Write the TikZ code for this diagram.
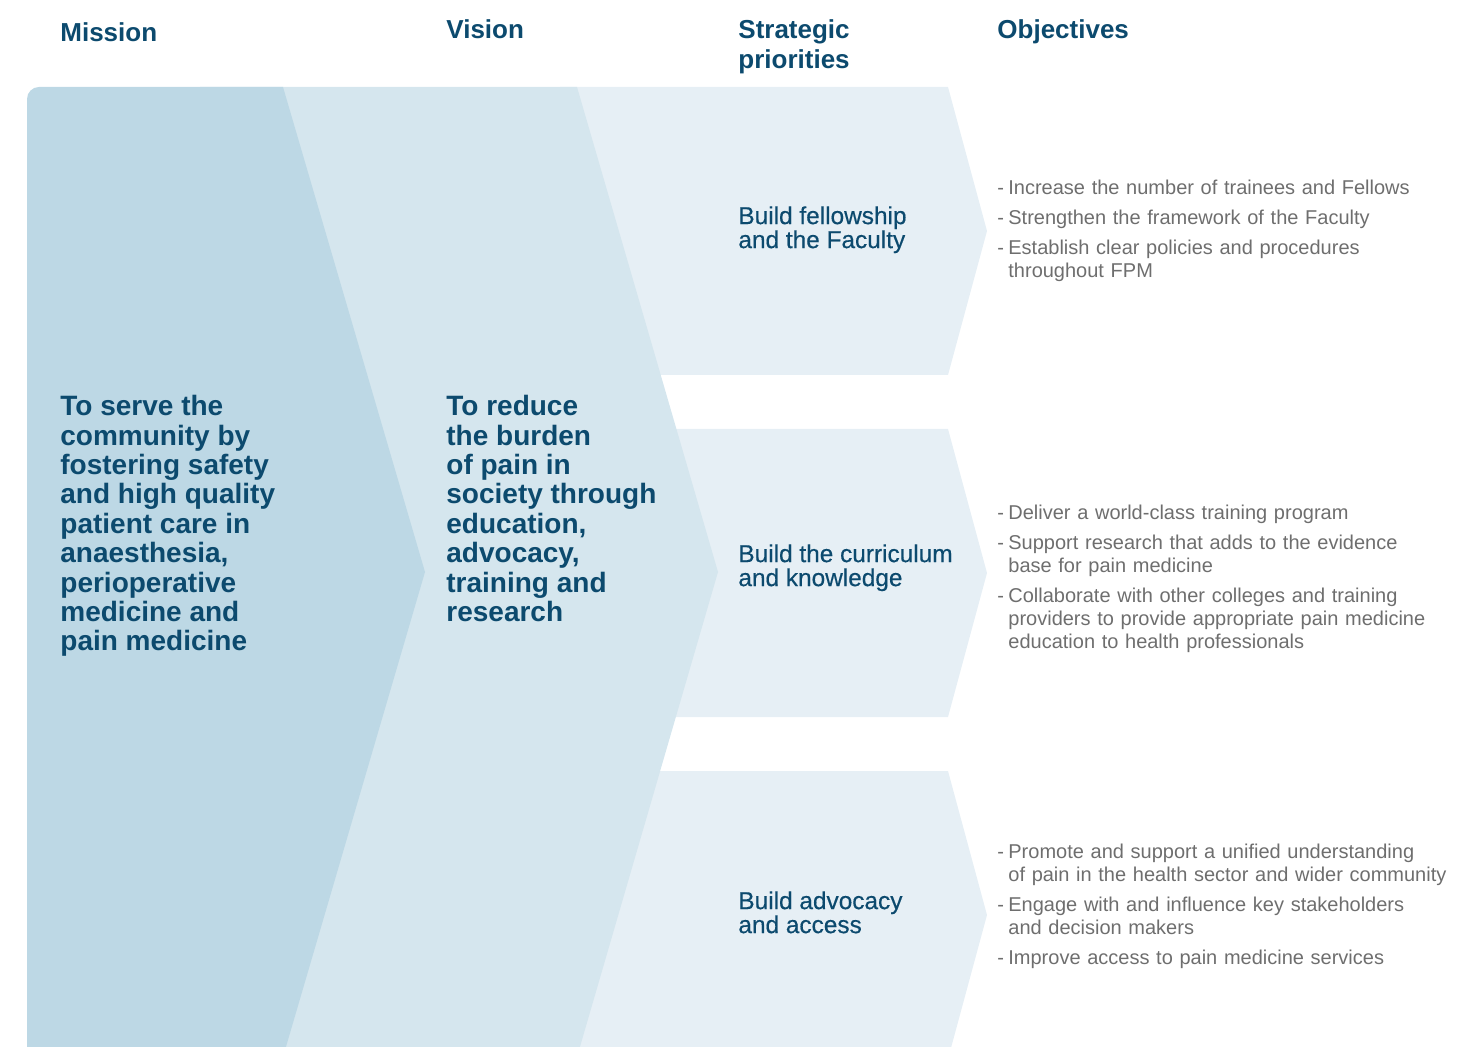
\documentclass[tikz,border=0pt]{standalone}
\usepackage{fontspec}
\setmainfont{Liberation Sans}
\newfontfamily\medfont[FakeBold=0.4]{Liberation Sans}
\definecolor{fpmblue}{HTML}{0C4A6E}
\definecolor{objgrey}{HTML}{6E6E6E}
\definecolor{missionfill}{HTML}{BDD8E5}
\definecolor{visionfill}{HTML}{D5E6EE}
\definecolor{priofill}{HTML}{E6EFF5}
\newcommand{\objitem}[1]{\par\noindent\hangindent=5.5pt\hangafter=1\makebox[5.5pt][l]{-}#1\par}
\begin{document}
\begin{tikzpicture}[x=.5pt,y=-.5pt,
head/.style={font=\bfseries\fontsize{13}{15}\selectfont,text=fpmblue,anchor=north west,inner sep=0pt,align=left},
statement/.style={font=\bfseries\fontsize{14}{14.7}\selectfont,text=fpmblue,anchor=north west,inner sep=0pt,align=left},
priolabel/.style={font=\medfont\fontsize{12.2}{12}\selectfont,text=fpmblue,anchor=north west,inner sep=0pt,align=left},
objlist/.style={font=\fontsize{10}{11.5}\selectfont,text=objgrey,anchor=north west,inner sep=0pt,text width=240pt,align=left,execute at begin node={\setlength{\parskip}{3.5pt}}}]
\path[use as bounding box] (0,0) rectangle (1465,1047);
\clip (0,0) rectangle (1465,1047);
\foreach \n/\ytop/\ylab/\yobj/\prio/\objs in {
fellow/87/206/164/{Build fellowship\\and the Faculty}/{\objitem{Increase the number of trainees and Fellows}\objitem{Strengthen the framework of the Faculty}\objitem{Establish clear policies and procedures\newline throughout FPM}},
curric/429/544/489/{Build the curriculum\\and knowledge}/{\objitem{Deliver a world-class training program}\objitem{Support research that adds to the evidence\newline base for pain medicine}\objitem{Collaborate with other colleges and training\newline providers to provide appropriate pain medicine\newline education to health professionals}},
advoc/771/891/828/{Build advocacy\\and access}/{\objitem{Promote and support a unified understanding\newline of pain in the health sector and wider community}\objitem{Engage with and influence key stakeholders\newline and decision makers}\objitem{Improve access to pain medicine services}}}{
\pgfmathsetmacro{\ymid}{\ytop+144}
\pgfmathsetmacro{\ybot}{\ytop+288}
\fill[priofill] (560,\ytop) -- (948,\ytop) -- (987,\ymid) -- (948,\ybot) -- (560,\ybot) -- cycle;
\node[priolabel] (prio\n) at (738,\ylab) {\prio};
\node[objlist] (obj\n) at (997,\yobj) {\objs};
}
\fill[visionfill] (200,87) -- (577,87) -- (718,572) -- (577,1057) -- (200,1057) -- cycle;
\fill[missionfill] (27,1060) [rounded corners=6pt] -- (27,87) [sharp corners] -- (283,87) -- (425,572) -- (283,1057) -- cycle;
\node[head] (headmission) at (60,22) {Mission};
\node[head] (headvision) at (446,19) {Vision};
\node[head] (headprio) at (738,19) {Strategic\\priorities};
\node[head] (headobj) at (997,19) {Objectives};
\node[statement] (mission) at (60,395) {To serve the\\community by\\fostering safety\\and high quality\\patient care in\\anaesthesia,\\perioperative\\medicine and\\pain medicine};
\node[statement] (vision) at (446,395) {To reduce\\the burden\\of pain in\\society through\\education,\\advocacy,\\training and\\research};
\end{tikzpicture}
\end{document}
